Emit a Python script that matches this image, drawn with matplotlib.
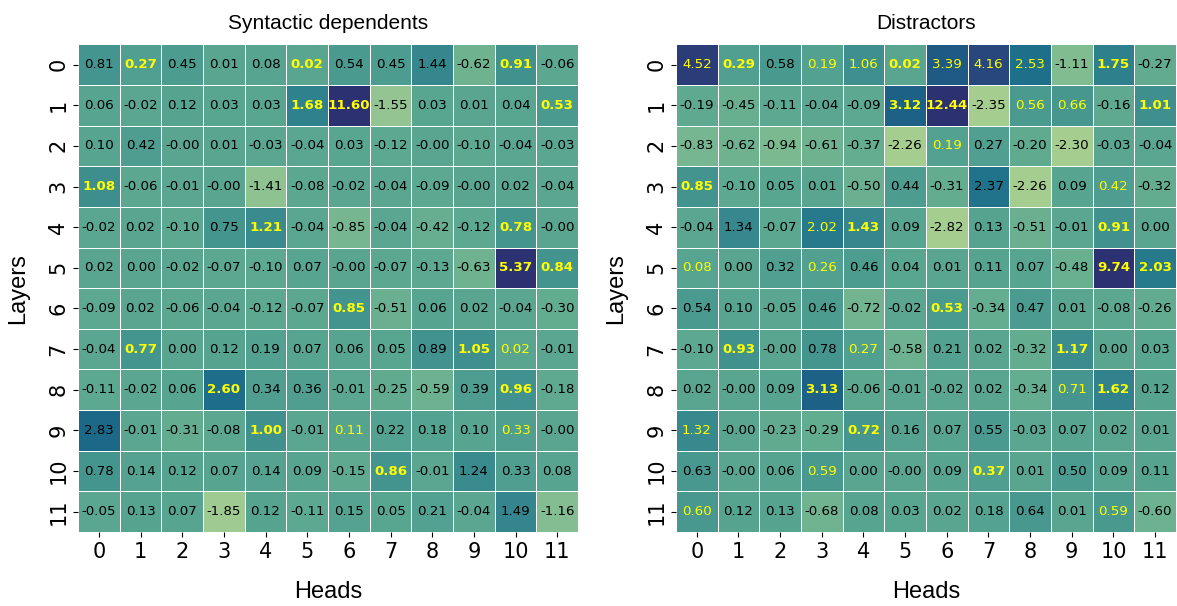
import numpy as np
import matplotlib
matplotlib.use("Agg")
import matplotlib.pyplot as plt
import seaborn as sns

heads = list(range(12))
layers = list(range(12))

syntactic = np.array([
    [0.81, 0.27, 0.45, 0.01, 0.08, 0.02, 0.54, 0.45, 1.44, -0.62, 0.91, -0.06],
    [0.06, -0.02, 0.12, 0.03, 0.03, 1.68, 11.60, -1.55, 0.03, 0.01, 0.04, 0.53],
    [0.10, 0.42, -0.00, 0.01, -0.03, -0.04, 0.03, -0.12, -0.00, -0.10, -0.04, -0.03],
    [1.08, -0.06, -0.01, -0.00, -1.41, -0.08, -0.02, -0.04, -0.09, -0.00, 0.02, -0.04],
    [-0.02, 0.02, -0.10, 0.75, 1.21, -0.04, -0.85, -0.04, -0.42, -0.12, 0.78, -0.00],
    [0.02, 0.00, -0.02, -0.07, -0.10, 0.07, -0.00, -0.07, -0.13, -0.63, 5.37, 0.84],
    [-0.09, 0.02, -0.06, -0.04, -0.12, -0.07, 0.85, -0.51, 0.06, 0.02, -0.04, -0.30],
    [-0.04, 0.77, 0.00, 0.12, 0.19, 0.07, 0.06, 0.05, 0.89, 1.05, 0.02, -0.01],
    [-0.11, -0.02, 0.06, 2.60, 0.34, 0.36, -0.01, -0.25, -0.59, 0.39, 0.96, -0.18],
    [2.83, -0.01, -0.31, -0.08, 1.00, -0.01, 0.11, 0.22, 0.18, 0.10, 0.33, -0.00],
    [0.78, 0.14, 0.12, 0.07, 0.14, 0.09, -0.15, 0.86, -0.01, 1.24, 0.33, 0.08],
    [-0.05, 0.13, 0.07, -1.85, 0.12, -0.11, 0.15, 0.05, 0.21, -0.04, 1.49, -1.16],
])

distractors = np.array([
    [4.52, 0.29, 0.58, 0.19, 1.06, 0.02, 3.39, 4.16, 2.53, -1.11, 1.75, -0.27],
    [-0.19, -0.45, -0.11, -0.04, -0.09, 3.12, 12.44, -2.35, 0.56, 0.66, -0.16, 1.01],
    [-0.83, -0.62, -0.94, -0.61, -0.37, -2.26, 0.19, 0.27, -0.20, -2.30, -0.03, -0.04],
    [0.85, -0.10, 0.05, 0.01, -0.50, 0.44, -0.31, 2.37, -2.26, 0.09, 0.42, -0.32],
    [-0.04, 1.34, -0.07, 2.02, 1.43, 0.09, -2.82, 0.13, -0.51, -0.01, 0.91, 0.00],
    [0.08, 0.00, 0.32, 0.26, 0.46, 0.04, 0.01, 0.11, 0.07, -0.48, 9.74, 2.03],
    [0.54, 0.10, -0.05, 0.46, -0.72, -0.02, 0.53, -0.34, 0.47, 0.01, -0.08, -0.26],
    [-0.10, 0.93, -0.00, 0.78, 0.27, -0.58, 0.21, 0.02, -0.32, 1.17, 0.00, 0.03],
    [0.02, -0.00, 0.09, 3.13, -0.06, -0.01, -0.02, 0.02, -0.34, 0.71, 1.62, 0.12],
    [1.32, -0.00, -0.23, -0.29, 0.72, 0.16, 0.07, 0.55, -0.03, 0.07, 0.02, 0.01],
    [0.63, -0.00, 0.06, 0.59, 0.00, -0.00, 0.09, 0.37, 0.01, 0.50, 0.09, 0.11],
    [0.60, 0.12, 0.13, -0.68, 0.08, 0.03, 0.02, 0.18, 0.64, 0.01, 0.59, -0.60],
])

# cells whose label is yellow bold (same heads in both panels)
bold_cells = [(0, 1), (0, 5), (0, 10), (1, 5), (1, 6), (1, 11), (3, 0), (4, 4),
              (4, 10), (5, 10), (5, 11), (6, 6), (7, 1), (7, 9), (8, 3), (8, 10),
              (9, 4), (10, 7)]
# cells whose label is yellow, normal weight
yellow_syn = [(7, 10), (9, 6), (9, 10)]
yellow_dis = [(0, 0), (0, 3), (0, 4), (0, 6), (0, 7), (0, 8), (1, 8), (1, 9),
              (2, 6), (3, 10), (4, 3), (5, 0), (5, 3), (7, 4), (8, 9), (9, 0),
              (10, 3), (11, 0), (11, 10)]

titles = ["Syntactic dependents", "Distractors"]
label_font = "Liberation Sans"


def draw(ax, data, yellow, title):
    sns.heatmap(data, ax=ax, cmap="crest", cbar=False, annot=True, fmt=".2f",
                vmin=-2, vmax=5,
                linewidths=0.7, linecolor="white",
                annot_kws={"fontsize": 9.6, "color": "black"},
                xticklabels=heads, yticklabels=layers)
    n = data.shape[1]
    for k, t in enumerate(ax.texts):
        i, j = divmod(k, n)
        if (i, j) in bold_cells:
            t.set_color("yellow")
            t.set_fontweight("bold")
        elif (i, j) in yellow:
            t.set_color("yellow")
    ax.set_title(title, fontsize=15, family=label_font, pad=11)
    ax.set_xlabel("Heads", fontsize=17, family=label_font, labelpad=14)
    ax.set_ylabel("Layers", fontsize=17, family=label_font, labelpad=14)
    ax.tick_params(axis="both", labelsize=15)
    plt.setp(ax.get_yticklabels(), rotation=90, va="center")
    plt.setp(ax.get_xticklabels(), rotation=0)


fig = plt.figure(figsize=(11.77, 6.06), dpi=100)
ax1 = fig.add_axes([0.0663, 0.122, 0.4248, 0.805])
ax2 = fig.add_axes([0.5743, 0.122, 0.4248, 0.805])
draw(ax1, syntactic, yellow_syn, titles[0])
draw(ax2, distractors, yellow_dis, titles[1])

fig.savefig("out.png", dpi=100)
